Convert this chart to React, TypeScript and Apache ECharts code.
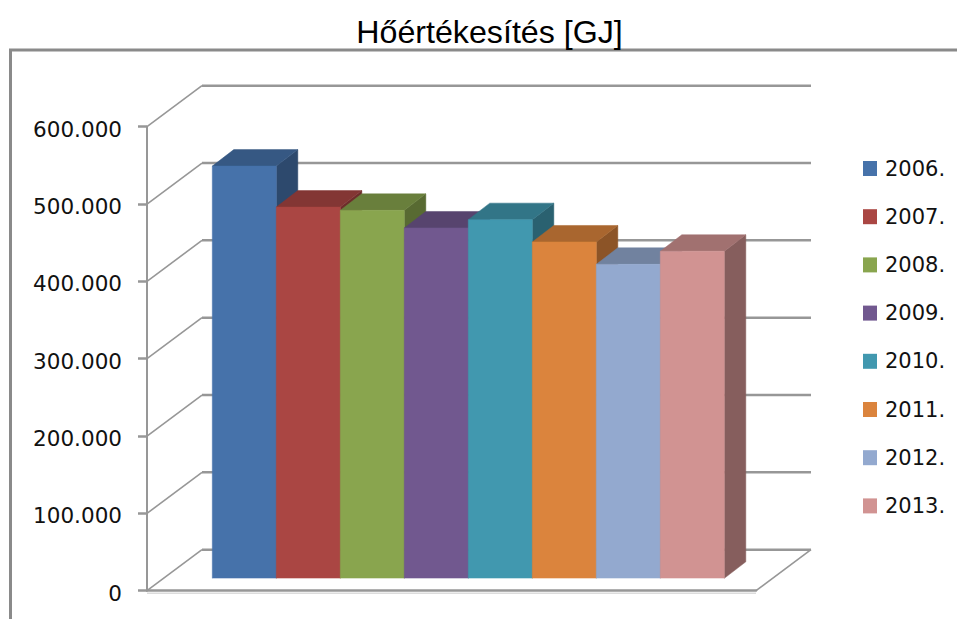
import React, { useEffect, useRef } from "react";
import * as echarts from "echarts";

const years = ["2006.", "2007.", "2008.", "2009.", "2010.", "2011.", "2012.", "2013."];
const values = [533000, 480000, 475800, 453000, 463800, 434900, 406000, 422900];
const colors = ["#4672AA", "#AA4643", "#89A54E", "#71588F", "#4198AF", "#DB843D", "#93A9CF", "#D19392"];
const yTicks = [0, 100000, 200000, 300000, 400000, 500000, 600000];

const GREY = "#979797";
const WALL_DX = 55;
const WALL_DY = -41;
const BAR_DX = 21.5;
const BAR_DY = -16.5;

function shade(hex: string, k: number): string {
  const n = parseInt(hex.slice(1), 16);
  const f = (v: number) => Math.round(v * k);
  return `rgb(${f((n >> 16) & 255)},${f((n >> 8) & 255)},${f(n & 255)})`;
}

function fmt(v: number): string {
  return String(v).replace(/\B(?=(\d{3})+(?!\d))/g, ".");
}

const poly = (points: number[][], fill: string) => ({
  type: "polygon",
  shape: { points },
  style: { fill, stroke: fill, lineWidth: 0.5 },
});

function renderBar(params: any, api: any) {
  const idx = api.value(0);
  const top = api.coord([idx, api.value(1)]);
  const base = api.coord([idx, 0]);
  const w = api.size([1, 0])[0];
  const x0 = top[0] - w / 2;
  const x1 = top[0] + w / 2;
  const y0 = top[1];
  const y1 = base[1];
  const c = colors[params.seriesIndex - 1];
  return {
    type: "group",
    children: [
      poly([[x1, y0], [x1 + BAR_DX, y0 + BAR_DY], [x1 + BAR_DX, y1 + BAR_DY], [x1, y1]], shade(c, 0.64)),
      poly([[x0, y0], [x0 + BAR_DX, y0 + BAR_DY], [x1 + BAR_DX, y0 + BAR_DY], [x1, y0]], shade(c, 0.77)),
      poly([[x0, y0], [x1, y0], [x1, y1], [x0, y1]], c),
      {
        type: "line",
        shape: { x1: x0, y1: y1 + 0.5, x2: x1, y2: y1 + 0.5 },
        style: { stroke: "rgba(255,255,255,0.45)", lineWidth: 1.5 },
      },
    ],
  };
}

function renderWall(params: any, api: any) {
  const v = api.value(0);
  const left = params.coordSys.x;
  const right = left + params.coordSys.width;
  const y = api.coord([0, v])[1];
  const children: any[] = [
    {
      type: "line",
      shape: { x1: left + WALL_DX, y1: y + WALL_DY, x2: right + WALL_DX, y2: y + WALL_DY },
      style: { stroke: GREY, lineWidth: 2.5 },
    },
    {
      type: "line",
      shape: { x1: left, y1: y, x2: left + WALL_DX, y2: y + WALL_DY },
      style: { stroke: GREY, lineWidth: 1.6 },
    },
  ];
  if (v === 0) {
    children.push(
      {
        type: "line",
        shape: { x1: right, y1: y, x2: right + WALL_DX, y2: y + WALL_DY },
        style: { stroke: GREY, lineWidth: 1.6 },
      },
      {
        type: "line",
        shape: { x1: left, y1: y + 2.5, x2: right, y2: y + 2.5 },
        style: { stroke: "#dcdcdc", lineWidth: 1.5 },
      }
    );
  }
  return { type: "group", children };
}

export default function App() {
  const ref = useRef<HTMLDivElement>(null);
  useEffect(() => {
    document.body.style.margin = "0";
    document.body.style.overflow = "hidden";
    const chart = echarts.init(ref.current!, undefined, { renderer: "svg" });
    chart.setOption({
      animation: false,
      backgroundColor: "#ffffff",
      title: {
        text: "Hőértékesítés [GJ]",
        left: 484.5,
        top: 11,
        textAlign: "center",
        textStyle: { fontFamily: "Liberation Sans", fontSize: 32.2, fontWeight: "normal", color: "#000" },
      },
      legend: {
        data: years,
        orient: "vertical",
        left: 863,
        top: 158,
        padding: 0,
        itemWidth: 14,
        itemHeight: 15,
        itemGap: 27.2,
        icon: "rect",
        selectedMode: false,
        textStyle: {
          fontFamily: "DejaVu Sans",
          fontSize: 21,
          color: "#111",
          padding: [0, 0, 0, 3],
        },
      },
      graphic: [
        {
          type: "polyline",
          silent: true,
          shape: { points: [[10.5, 619], [10.5, 50], [957, 50]] },
          style: { fill: "none", stroke: "#8a8a8a", lineWidth: 3 },
        },
      ],
      grid: [
        { left: 147, top: 126.7, width: 609, height: 464 },
        { left: 212.3, top: 114.3, width: 512, height: 464 },
      ],
      xAxis: [
        {
          gridIndex: 0,
          type: "category",
          data: years,
          axisLine: { show: true, lineStyle: { color: GREY, width: 2.5 } },
          axisTick: { show: false },
          axisLabel: { show: false },
        },
        {
          gridIndex: 1,
          type: "category",
          data: years,
          show: false,
        },
      ],
      yAxis: [
        {
          gridIndex: 0,
          type: "value",
          min: 0,
          max: 600000,
          interval: 100000,
          splitLine: { show: false },
          axisLine: { show: true, lineStyle: { color: GREY, width: 2 } },
          axisTick: { show: true, length: 9, lineStyle: { color: GREY, width: 2.5 } },
          axisLabel: {
            margin: 25,
            fontFamily: "DejaVu Sans",
            fontSize: 21.5,
            color: "#111",
            verticalAlign: "top",
            lineHeight: 5,
            formatter: (v: number) => fmt(v),
          },
        },
        {
          gridIndex: 1,
          type: "value",
          min: 0,
          max: 600000,
          interval: 100000,
          show: false,
        },
      ],
      series: [
        {
          type: "custom",
          name: "walls",
          xAxisIndex: 0,
          yAxisIndex: 0,
          silent: true,
          z: 1,
          renderItem: renderWall,
          encode: { x: 1, y: 0 },
          data: yTicks.map((v) => [v, years[0]]),
        },
        ...years.map((y, i) => ({
          type: "custom",
          name: y,
          xAxisIndex: 1,
          yAxisIndex: 1,
          silent: true,
          z: 2 + i,
          itemStyle: { color: colors[i] },
          renderItem: renderBar,
          encode: { x: 0, y: 1 },
          data: [[y, values[i]]],
        })),
      ],
    });
    return () => chart.dispose();
  }, []);
  return <div ref={ref} style={{ width: 957, height: 619 }} />;
}
